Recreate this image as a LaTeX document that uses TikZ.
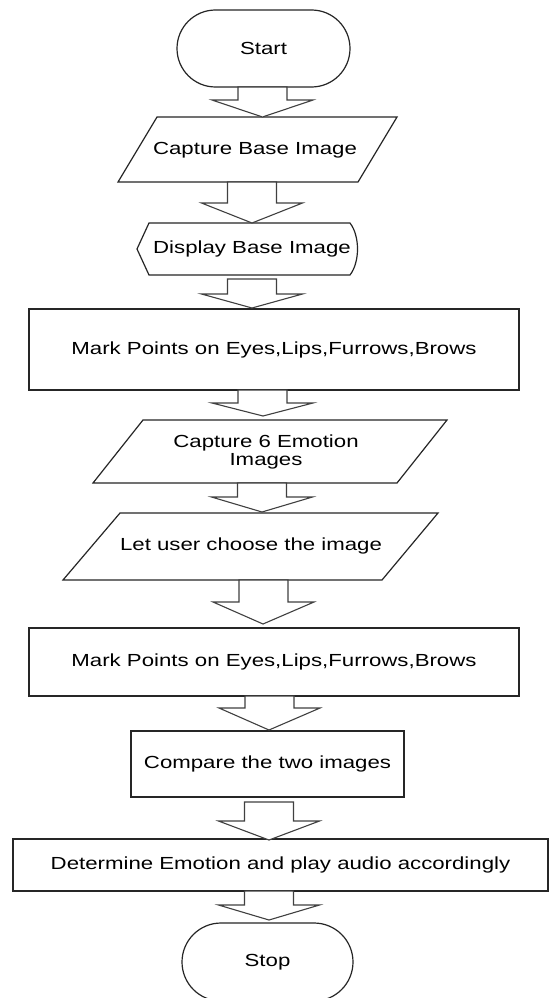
\documentclass[tikz,border=0pt]{standalone}
\usepackage{fontspec}
\setmainfont[FakeStretch=1.27]{Liberation Sans}
\usetikzlibrary{calc}

\tikzset{
  outline/.style={draw=black!85, line width=1.2pt},
  boxnode/.style={outline, rectangle, inner sep=0pt, align=center},
  terminal/.style={outline, rectangle, inner sep=0pt},
  label/.style={inner sep=0pt, align=center},
  blockarrow/.style={draw=black!75, line width=1.1pt, fill=white, line join=miter},
}

% Hollow block arrow from the shaft top (#1) down to the tip (#2); #3 is the head length.
\newcommand\hollowarrow[3]{%
  \draw[blockarrow] let \p1=(#1), \p2=(#2) in
    (\x1-24.5pt,\y1) -- (\x1-24.5pt,\y2+#3) -- (\x1-50.5pt,\y2+#3) -- (\x2,\y2)
    -- (\x1+50.5pt,\y2+#3) -- (\x1+24.5pt,\y2+#3) -- (\x1+24.5pt,\y1) -- cycle;
}

\begin{document}
\begin{tikzpicture}[x=1pt,y=-1pt,font=\fontsize{17.5}{18}\selectfont]
\useasboundingbox (0,0) rectangle (550,998);
\fill[white] (0,0) rectangle (550,998);

% Start terminal
\node[terminal, minimum width=173pt, minimum height=77pt, rounded corners=38.5pt]
  (start) at (263.5,48.5) {Start};

% Capture Base Image (input/output)
\draw[outline] (157,117) -- (397,117) -- (358,182) -- (118,182) -- cycle;
\node[label] (capbase) at (255,150) {Capture Base Image};

% Display Base Image
\draw[outline] (149,223) -- (350,223) .. controls (360,236) and (360,262) .. (350,275)
  -- (149,275) -- (137,249) -- cycle;
\node[label] (display) at (252,249) {Display Base Image};

% Mark points, first pass
\node[boxnode, minimum width=490pt, minimum height=81pt] (mark1) at (274,349.5)
  {Mark Points on Eyes,Lips,Furrows,Brows};

% Capture 6 Emotion Images
\draw[outline] (143,420) -- (447,420) -- (397,483) -- (93,483) -- cycle;
\node[label] (capsix) at (266,452) {Capture 6 Emotion\\Images};

% Let user choose the image
\draw[outline] (120,513) -- (438,513) -- (382,580) -- (63,580) -- cycle;
\node[label] (choose) at (251,546) {Let user choose the image};

% Mark points, second pass
\node[boxnode, minimum width=490pt, minimum height=68pt] (mark2) at (274,662)
  {Mark Points on Eyes,Lips,Furrows,Brows};

% Compare
\node[boxnode, minimum width=273pt, minimum height=66pt] (compare) at (267.5,764)
  {Compare the two images};

% Determine emotion
\node[boxnode, minimum width=535pt, minimum height=52pt] (determine) at (280.5,865)
  {Determine Emotion and play audio accordingly};

% Stop terminal
\node[terminal, minimum width=171pt, minimum height=78pt, rounded corners=39pt]
  (stop) at (267.5,962) {Stop};

% Arrow end points
\coordinate (a1s) at (262.5,87);  \coordinate (a1e) at (262.5,117);
\coordinate (a2s) at (252,182);   \coordinate (a2e) at (252,223);
\coordinate (a3s) at (252,279);   \coordinate (a3e) at (252,308);
\coordinate (a4s) at (262.5,390); \coordinate (a4e) at (263,416);
\coordinate (a5s) at (262,483);   \coordinate (a5e) at (262,512);
\coordinate (a6s) at (263.5,580); \coordinate (a6e) at (263,624);
\coordinate (a7s) at (269.5,696); \coordinate (a7e) at (269,730);
\coordinate (a8s) at (269,802);   \coordinate (a8e) at (269,840);
\coordinate (a9s) at (269,891);   \coordinate (a9e) at (269,920);

\hollowarrow{a1s}{a1e}{17pt}
\hollowarrow{a2s}{a2e}{20pt}
\hollowarrow{a3s}{a3e}{14pt}
\hollowarrow{a4s}{a4e}{13pt}
\hollowarrow{a5s}{a5e}{15pt}
\hollowarrow{a6s}{a6e}{22pt}
\hollowarrow{a7s}{a7e}{22pt}
\hollowarrow{a8s}{a8e}{19pt}
\hollowarrow{a9s}{a9e}{15pt}
\end{tikzpicture}
\end{document}
